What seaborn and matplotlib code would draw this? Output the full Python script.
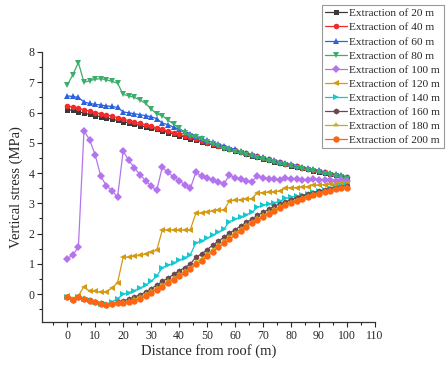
import matplotlib
matplotlib.use("Agg")
import matplotlib.pyplot as plt
import seaborn as sns
import numpy as np
import pandas as pd
from matplotlib.ticker import MultipleLocator

distance = list(range(0, 101, 2))

s20 = [6.10, 6.07, 6.03, 5.98, 5.94, 5.90, 5.86, 5.82, 5.78, 5.74, 5.70, 5.66, 5.62, 5.57, 5.52, 5.48, 5.44,
       5.39, 5.34, 5.29, 5.24, 5.19, 5.14, 5.09, 5.04, 4.99, 4.93, 4.88, 4.83, 4.78, 4.73, 4.68, 4.63, 4.58,
       4.53, 4.48, 4.43, 4.38, 4.34, 4.29, 4.25, 4.20, 4.16, 4.12, 4.08, 4.04, 4.00, 3.96, 3.92, 3.88, 3.85]
s40 = [6.22, 6.18, 6.14, 6.09, 6.05, 6.00, 5.96, 5.92, 5.88, 5.83, 5.78, 5.73, 5.69, 5.64, 5.59, 5.54, 5.49,
       5.44, 5.39, 5.34, 5.28, 5.23, 5.18, 5.12, 5.06, 5.00, 4.95, 4.90, 4.85, 4.80, 4.75, 4.70, 4.65, 4.60,
       4.55, 4.50, 4.45, 4.40, 4.36, 4.31, 4.27, 4.22, 4.18, 4.14, 4.10, 4.06, 4.02, 3.98, 3.94, 3.90, 3.86]
s60 = [6.55, 6.53, 6.50, 6.35, 6.30, 6.27, 6.25, 6.22, 6.20, 6.17, 6.02, 5.99, 5.96, 5.93, 5.90, 5.86, 5.80,
       5.65, 5.60, 5.52, 5.45, 5.38, 5.30, 5.22, 5.15, 5.08, 5.02, 4.96, 4.90, 4.84, 4.78, 4.73, 4.67, 4.62,
       4.57, 4.52, 4.47, 4.42, 4.38, 4.34, 4.30, 4.25, 4.21, 4.17, 4.13, 4.09, 4.05, 4.01, 3.97, 3.93, 3.88]
s80 = [6.90, 7.25, 7.65, 7.00, 7.05, 7.10, 7.12, 7.08, 7.03, 6.97, 6.60, 6.55, 6.50, 6.42, 6.30, 6.12, 5.95,
       5.90, 5.75, 5.62, 5.48, 5.32, 5.22, 5.20, 5.12, 5.02, 4.95, 4.88, 4.80, 4.75, 4.70, 4.65, 4.60, 4.55,
       4.50, 4.45, 4.40, 4.35, 4.30, 4.26, 4.22, 4.18, 4.14, 4.10, 4.06, 4.02, 3.98, 3.94, 3.90, 3.86, 3.82]
s100 = [1.17, 1.30, 1.55, 5.40, 5.10, 4.60, 3.90, 3.58, 3.42, 3.20, 4.73, 4.42, 4.18, 3.95, 3.75, 3.57, 3.43,
        4.20, 4.02, 3.88, 3.75, 3.62, 3.50, 4.02, 3.90, 3.83, 3.78, 3.70, 3.65, 3.93, 3.85, 3.80, 3.75, 3.72,
        3.90, 3.85, 3.82, 3.80, 3.78, 3.85, 3.82, 3.80, 3.78, 3.76, 3.80, 3.78, 3.77, 3.76, 3.75, 3.76, 3.75]
s120 = [-0.05, -0.15, -0.05, 0.25, 0.10, 0.10, 0.07, 0.08, 0.20, 0.38, 1.22, 1.22, 1.25, 1.28, 1.32, 1.38, 1.45,
        2.12, 2.12, 2.12, 2.12, 2.12, 2.13, 2.68, 2.68, 2.72, 2.75, 2.77, 2.78, 3.08, 3.10, 3.12, 3.14, 3.16,
        3.35, 3.35, 3.37, 3.38, 3.40, 3.50, 3.52, 3.52, 3.53, 3.55, 3.60, 3.60, 3.62, 3.63, 3.64, 3.66, 3.67]
s140 = [-0.08, -0.15, -0.10, -0.15, -0.20, -0.25, -0.33, -0.33, -0.25, -0.15, 0.00, 0.05, 0.12, 0.20, 0.30, 0.42,
        0.60, 0.88, 0.95, 1.03, 1.12, 1.20, 1.30, 1.70, 1.75, 1.85, 1.95, 2.05, 2.15, 2.40, 2.48, 2.55, 2.63,
        2.70, 2.88, 2.93, 2.98, 3.02, 3.07, 3.17, 3.20, 3.24, 3.27, 3.30, 3.37, 3.40, 3.45, 3.50, 3.55, 3.58, 3.60]
s160 = [-0.08, -0.18, -0.10, -0.15, -0.20, -0.25, -0.30, -0.37, -0.33, -0.27, -0.22, -0.17, -0.10, -0.02, 0.07,
        0.18, 0.30, 0.42, 0.53, 0.65, 0.77, 0.88, 1.00, 1.22, 1.33, 1.47, 1.62, 1.75, 1.88, 2.02, 2.13, 2.25,
        2.37, 2.48, 2.60, 2.70, 2.80, 2.90, 2.98, 3.05, 3.12, 3.19, 3.25, 3.30, 3.35, 3.40, 3.44, 3.48, 3.52,
        3.55, 3.57]
s180 = [-0.08, -0.17, -0.08, -0.13, -0.20, -0.25, -0.30, -0.33, -0.32, -0.28, -0.27, -0.23, -0.17, -0.10, 0.00,
        0.10, 0.20, 0.30, 0.42, 0.53, 0.65, 0.75, 0.88, 1.05, 1.17, 1.32, 1.47, 1.62, 1.75, 1.90, 2.02, 2.15,
        2.28, 2.40, 2.50, 2.60, 2.70, 2.80, 2.90, 2.98, 3.05, 3.12, 3.19, 3.25, 3.30, 3.35, 3.40, 3.45, 3.49,
        3.52, 3.55]
s200 = [-0.08, -0.18, -0.10, -0.15, -0.22, -0.27, -0.32, -0.35, -0.33, -0.30, -0.30, -0.27, -0.22, -0.15, -0.07,
        0.05, 0.15, 0.25, 0.37, 0.48, 0.60, 0.70, 0.82, 0.98, 1.10, 1.25, 1.40, 1.55, 1.68, 1.82, 1.95, 2.08,
        2.22, 2.35, 2.45, 2.55, 2.65, 2.75, 2.85, 2.93, 3.00, 3.08, 3.15, 3.22, 3.27, 3.32, 3.37, 3.42, 3.46,
        3.50, 3.52]

labels = ["Extraction of 20 m", "Extraction of 40 m", "Extraction of 60 m", "Extraction of 80 m",
          "Extraction of 100 m", "Extraction of 120 m", "Extraction of 140 m", "Extraction of 160 m",
          "Extraction of 180 m", "Extraction of 200 m"]
series = [s20, s40, s60, s80, s100, s120, s140, s160, s180, s200]

colors = ["#3a3a3a", "#f22a2a", "#2a62e0", "#3aae6a", "#b474ee", "#d49a12", "#14c8d0", "#6e4650", "#b8b41e",
          "#ff6412"]
markers = ["s", "o", "^", "v", "D", "<", ">", "h", "*", "o"]
msizes = [3.6, 4.0, 4.0, 4.2, 3.6, 4.0, 4.0, 4.4, 4.0, 4.6]

sns.set_style("ticks")
plt.rcParams["font.family"] = ["Liberation Serif", "DejaVu Serif"]

rows = []
for lab, vals in zip(labels, series):
    for d, v in zip(distance, vals):
        rows.append({"Distance": d, "Stress": v, "Case": lab})
df = pd.DataFrame(rows)

fig = plt.figure(figsize=(4.47, 3.66), dpi=100)
ax = fig.add_axes([42 / 447, 1 - 322 / 366, (375 - 42) / 447, (322 - 52) / 366])

for lab, c, m, ms in zip(labels, colors, markers, msizes):
    sub = df[df["Case"] == lab]
    sns.lineplot(data=sub, x="Distance", y="Stress", ax=ax, color=c, marker=m, markersize=ms,
                 markeredgewidth=0, linewidth=0.9, label=lab, estimator=None, sort=False)

ax.set_xlim(-9, 110)
ax.set_ylim(-0.92, 8)
ax.xaxis.set_major_locator(MultipleLocator(10))
ax.xaxis.set_minor_locator(MultipleLocator(5))
ax.yaxis.set_major_locator(MultipleLocator(1))
ax.yaxis.set_minor_locator(MultipleLocator(0.5))
ax.set_xticks(list(range(0, 111, 10)))
ax.tick_params(axis="both", which="major", direction="out", length=3.5, width=0.8, labelsize=8.5, pad=2)
ax.tick_params(axis="both", which="minor", direction="out", length=2, width=0.8)
for sp in ["top", "right"]:
    ax.spines[sp].set_visible(False)
for sp in ["left", "bottom"]:
    ax.spines[sp].set_linewidth(0.9)
    ax.spines[sp].set_color("#333333")

ax.set_xlabel("Distance from roof (m)", fontsize=10.5, labelpad=2)
ax.set_ylabel("Vertical stress (MPa)", fontsize=10.5, labelpad=4)

handles, labs = ax.get_legend_handles_labels()
ax.get_legend().remove()
leg = fig.legend(handles, labs, loc="upper left", bbox_to_anchor=(322 / 447, 1 - 5 / 366), fontsize=8.2,
                 frameon=True, fancybox=False, edgecolor="#999999", framealpha=1, borderpad=0.3,
                 labelspacing=0.36, handlelength=1.9, handletextpad=0.2, borderaxespad=0)
leg.get_frame().set_linewidth(0.8)

fig.savefig("out.png", dpi=100)
